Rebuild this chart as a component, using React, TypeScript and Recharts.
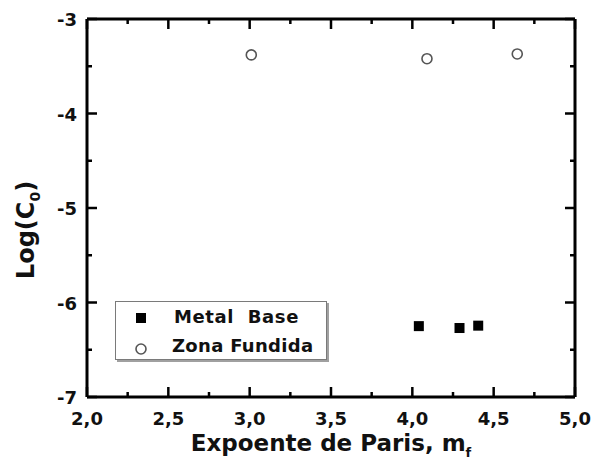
import React from 'react';
import { ScatterChart, Scatter, XAxis, YAxis, Legend, Label } from 'recharts';

// Metal Base (filled squares)
const metalBaseM = [4.04, 4.29, 4.405];
const metalBaseLogC = [-6.25, -6.27, -6.245];

// Zona Fundida (open circles)
const zonaFundidaM = [3.01, 4.09, 4.645];
const zonaFundidaLogC = [-3.38, -3.42, -3.37];

const xMajorTicks = [2, 2.5, 3, 3.5, 4, 4.5, 5];
const xTickLabels = ['2,0', '2,5', '3,0', '3,5', '4,0', '4,5', '5,0'];
const xMinorTicks = [2.25, 2.75, 3.25, 3.75, 4.25, 4.75];
const yMajorTicks = [-7, -6, -5, -4, -3];
const yTickLabels = ['-7', '-6', '-5', '-4', '-3'];
const yMinorTicks = [-6.5, -5.5, -4.5, -3.5];

const metalBase = metalBaseM.map((m, i) => ({ m, c: metalBaseLogC[i] }));
const zonaFundida = zonaFundidaM.map((m, i) => ({ m, c: zonaFundidaLogC[i] }));

const xTicks = [...xMajorTicks, ...xMinorTicks].sort((a, b) => a - b);
const yTicks = [...yMajorTicks, ...yMinorTicks].sort((a, b) => a - b);

const FONT = '"DejaVu Sans", Arial, sans-serif';
const TICK_W = 2.5;

const xLabel = (v: number) => {
  const i = xMajorTicks.indexOf(v);
  return i >= 0 ? xTickLabels[i] : null;
};
const yLabel = (v: number) => {
  const i = yMajorTicks.indexOf(v);
  return i >= 0 ? yTickLabels[i] : null;
};

const BottomTick = (props: any) => {
  const { x, y, payload } = props;
  const label = xLabel(payload.value);
  return (
    <g>
      <line x1={x} x2={x} y1={y} y2={y - (label ? 10 : 5)} stroke="#000" strokeWidth={TICK_W} />
      {label && (
        <text x={x} y={y + 28} textAnchor="middle" fontFamily={FONT} fontWeight="bold" fontSize={18} fill="#111">
          {label}
        </text>
      )}
    </g>
  );
};

const TopTick = (props: any) => {
  const { x, y, payload } = props;
  const major = xLabel(payload.value) !== null;
  return <line x1={x} x2={x} y1={y} y2={y + (major ? 10 : 5)} stroke="#000" strokeWidth={TICK_W} />;
};

const LeftTick = (props: any) => {
  const { x, y, payload } = props;
  const label = yLabel(payload.value);
  return (
    <g>
      <line x1={x} x2={x + (label ? 10 : 5)} y1={y} y2={y} stroke="#000" strokeWidth={TICK_W} />
      {label && (
        <text x={x - 10} y={y + 7} textAnchor="end" fontFamily={FONT} fontWeight="bold" fontSize={18} fill="#111">
          {label}
        </text>
      )}
    </g>
  );
};

const RightTick = (props: any) => {
  const { x, y, payload } = props;
  const major = yLabel(payload.value) !== null;
  return <line x1={x} x2={x - (major ? 10 : 5)} y1={y} y2={y} stroke="#000" strokeWidth={TICK_W} />;
};

const SquareDot = (props: any) => {
  const { cx, cy } = props;
  return <rect x={cx - 5} y={cy - 5} width={10} height={10} fill="#000" />;
};

const CircleDot = (props: any) => {
  const { cx, cy } = props;
  return <circle cx={cx} cy={cy} r={5} fill="#fff" stroke="#555" strokeWidth={1.6} />;
};

const LegendBox = () => (
  <div
    style={{
      width: 212,
      height: 59,
      border: '1.5px solid #7a7a7a',
      boxShadow: '2px 2px 0 #a0a0a0',
      background: '#fff',
      fontFamily: FONT,
      fontWeight: 'bold',
      fontSize: 18,
      color: '#111',
      boxSizing: 'border-box',
      position: 'relative',
      textAlign: 'left',
    }}
  >
    <svg width={40} height={59} style={{ position: 'absolute', left: 0, top: 0 }}>
      <rect x={20} y={11} width={10} height={10} fill="#000" />
      <circle cx={25} cy={47} r={5} fill="#fff" stroke="#555" strokeWidth={1.6} />
    </svg>
    <div style={{ position: 'absolute', left: 58, top: 4, letterSpacing: 0.6, whiteSpace: 'pre' }}>Metal  Base</div>
    <div style={{ position: 'absolute', left: 56, top: 33, letterSpacing: 0.3 }}>Zona Fundida</div>
  </div>
);

const XTitle = (props: any) => {
  const { viewBox } = props;
  const cx = viewBox.x + viewBox.width / 2;
  return (
    <text x={cx} y={451} textAnchor="middle" fontFamily={FONT} fontWeight="bold" fontSize={23} fill="#111">
      Expoente de Paris, m
      <tspan fontSize={13} dy={6}>f</tspan>
    </text>
  );
};

const YTitle = () => (
  <text
    x={34}
    y={230}
    transform="rotate(-90 34 230)"
    textAnchor="middle"
    fontFamily={FONT}
    fontWeight="bold"
    fontSize={24}
    fill="#111"
  >
    Log(C
    <tspan fontSize={14} dy={6}>0</tspan>
    <tspan dy={-6}>)</tspan>
  </text>
);

export default function App() {
  return (
    <div style={{ position: 'absolute', left: 0, top: 0, width: 593, height: 471, background: '#fff' }}>
      <ScatterChart width={593} height={471} margin={{ top: 18, right: 17, bottom: 44, left: 27 }}>
        <XAxis
          xAxisId="b"
          type="number"
          dataKey="m"
          domain={[2, 5]}
          ticks={xTicks}
          interval={0}
          allowDataOverflow
          tickSize={0}
          tickMargin={0}
          tick={<BottomTick />}
          axisLine={{ stroke: '#000', strokeWidth: 3 }}
          tickLine={false}
          height={30}
        >
          <Label content={<XTitle />} />
        </XAxis>
        <XAxis
          xAxisId="t"
          orientation="top"
          type="number"
          dataKey="m"
          domain={[2, 5]}
          ticks={xTicks}
          interval={0}
          allowDataOverflow
          tickSize={0}
          tickMargin={0}
          tick={<TopTick />}
          axisLine={{ stroke: '#000', strokeWidth: 3 }}
          tickLine={false}
          height={1}
        />
        <YAxis
          yAxisId="l"
          type="number"
          dataKey="c"
          domain={[-7, -3]}
          ticks={yTicks}
          interval={0}
          allowDataOverflow
          tickSize={0}
          tickMargin={0}
          tick={<LeftTick />}
          axisLine={{ stroke: '#000', strokeWidth: 3 }}
          tickLine={false}
          width={60}
        >
          <Label content={<YTitle />} />
        </YAxis>
        <YAxis
          yAxisId="r"
          orientation="right"
          type="number"
          dataKey="c"
          domain={[-7, -3]}
          ticks={yTicks}
          interval={0}
          allowDataOverflow
          tickSize={0}
          tickMargin={0}
          tick={<RightTick />}
          axisLine={{ stroke: '#000', strokeWidth: 3 }}
          tickLine={false}
          width={1}
        />
        <Legend
          layout="horizontal"
          verticalAlign="middle"
          align="center"
          content={<LegendBox />}
          wrapperStyle={{ left: 115, top: 301, width: 212, height: 59 }}
        />
        <Scatter
          name="Metal Base"
          data={metalBase}
          xAxisId="b"
          yAxisId="l"
          shape={<SquareDot />}
          isAnimationActive={false}
        />
        <Scatter
          name="Zona Fundida"
          data={zonaFundida}
          xAxisId="t"
          yAxisId="r"
          shape={<CircleDot />}
          isAnimationActive={false}
        />
      </ScatterChart>
    </div>
  );
}
